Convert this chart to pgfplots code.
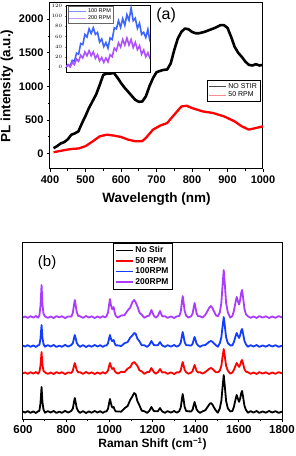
\documentclass[border=0pt]{standalone}
\usepackage{fontspec}
\setmainfont{Liberation Sans}
\usepackage{pgfplots}
\usepackage{pgfplotstable}
\pgfplotsset{compat=1.18}

\definecolor{myblue}{RGB}{20,60,255}
\definecolor{mypurple}{RGB}{170,60,255}
\definecolor{inblue}{RGB}{60,100,255}
\definecolor{inpurple}{RGB}{175,80,255}

\pgfplotstableread{
x y
410 20
430 40
450 60
465 70
480 75
500 110
520 180
540 256
560 281
580 267
600 247
620 207
640 183
660 185
670 232
690 355
710 415
730 454
750 578
770 700
785 711
800 677
830 627
860 602
890 553
920 479
940 405
960 356
980 380
1000 405
}\plred

\pgfplotstableread{
x y
410 80
420 110
430 150
440 170
450 210
460 280
470 300
480 330
490 450
500 560
510 680
520 780
530 880
540 1020
550 1170
560 1190
570 1190
580 1200
590 1130
600 1050
610 980
620 920
630 860
640 800
650 770
660 775
670 850
680 1000
690 1120
700 1210
710 1230
720 1245
730 1250
740 1340
750 1540
760 1710
770 1810
780 1860
790 1850
800 1810
810 1790
820 1790
835 1810
850 1840
865 1870
880 1910
890 1910
900 1870
910 1740
920 1590
930 1500
940 1440
950 1370
960 1320
970 1310
980 1330
990 1310
1000 1320
}\plblack

\pgfplotstableread{
x blue purple
400 0 0
415 4 4.5
430 2 0
445 13 9
460 11 4.5
475 27 15.5
490 25 11
505 46 23
520 44 17.5
535 64 29.5
550 59 22
565 75 32
580 66 22
595 77 29.5
610 64 17
625 68 24
640 49 12
655 55 18.5
670 40 9
685 48 17.5
700 37 10
715 57 24
730 54 20
745 77 37
760 75 32
775 91 47.5
790 78 39
805 95 54
820 82 43
835 103 57
850 92 43
865 116 54
880 91 38
895 96 48.5
910 76 34
925 86 42
940 64 25
955 68 33.5
970 58 20
985 74 28
1000 50 16
}\inset

\pgfplotstableread{
x black red blue purple
600 7.5 45.5 73.5 101.5
610 6.4 46.6 72.4 102.6
622 7.9 45.1 73.9 101.1
635 6.2 46.8 72.2 102.8
648 7.6 45.4 73.6 101.4
660 6.0 47.0 72.0 103.0
670 7.7 45.3 73.7 101.3
676 8.25 47.05 74.05 103.6
681 15.75 53.35 80.35 113.2
686 32 67 94 134
690 17 54.4 81.4 114.8
695 9.5 48.1 75.1 105.2
702 6.3 46.7 72.3 102.7
715 7.9 45.1 73.9 101.1
728 6.5 46.5 72.5 102.5
742 8.0 45.0 74.0 101.0
755 6.1 46.9 72.1 102.9
768 7.4 45.6 73.4 101.6
780 6.2 46.8 72.2 102.8
795 8.1 44.9 74.1 100.9
810 6.4 46.6 72.4 102.6
824 8.2 46 74.05 102.35
831 10.5 48.5 75.75 106.25
836 16.8 53 80.7 113.9
840 21 56 84 119
844 16.8 53 80.7 113.9
849 10.9 48.8 76.1 106.8
856 7.8 46.6 73.7 103.0
864 6.2 46.8 72.2 102.8
878 7.9 45.1 73.9 101.1
892 6.0 47.0 72.0 103.0
905 7.6 45.4 73.6 101.4
918 6.3 46.7 72.3 102.7
932 8.0 45.0 74.0 101.0
945 6.5 46.5 72.5 102.5
958 7.8 45.2 73.8 101.2
970 6.1 46.9 72.1 102.9
980 7.5 45.5 73.5 101.5
987 7.65 46.5 73.55 102.9
994 10.25 48.5 75.75 106.5
999 16.1 53 80.7 114.6
1003 20 56 84 120
1007 16.1 53 80.7 114.6
1012 12.1 50.3 77.9 110.0
1016 11.3 50.1 77.9 110.1
1020 12 51 79 112
1024 9.5 48.5 76 107
1030 7.5 46.5 73.6 103
1040 7.6 45.4 73.6 101.4
1055 7.25 47.25 72.95 103.55
1070 10.65 46.85 75.75 103.75
1085 13.05 50.45 76.95 108.55
1097 19.1 51.9 81.5 111.5
1107 22.65 55.85 83.55 116.95
1115 26 57 86 119
1122 24.7 55.3 85.3 116.7
1130 17.9 53.1 80.3 112.7
1140 13.4 48.6 77.6 106.4
1150 8.3 47.7 73.7 104.3
1162 7.8 45.2 73.8 101.2
1175 6.1 46.9 72.1 102.9
1185 8 47 74 103.4
1191 10.5 49.5 76.5 106.9
1195 12 51 78 109
1199 10.5 49.5 76.5 106.9
1206 8 47 74 103.4
1215 7.7 45.3 73.7 101.3
1225 7.8 46.8 73.8 103.2
1231 9.8 48.8 75.8 106.2
1235 11 50 77 108
1239 9.4 48.4 75.4 105.6
1246 7.4 46.4 73.4 102.6
1258 6.2 46.8 72.2 102.8
1270 7.9 45.1 73.9 101.1
1285 6.4 46.6 72.4 102.6
1300 8.0 45.0 74.0 101.0
1313 6.3 46.7 72.3 102.7
1324 7.9 46.55 73.7 103.05
1331 11.5 48.75 76.5 107.25
1336 19.6 53.7 82.8 116.7
1340 25 57 87 123
1344 19.6 53.7 82.8 116.7
1349 12.0 49.1 76.9 107.9
1356 8.1 46.7 73.8 103.3
1366 7.7 45.3 73.7 101.3
1379 7.5 46.4 73.45 102.7
1386 9.5 48 75.25 105.5
1391 14 51.6 79.3 111.8
1395 17 54 82 116
1399 14 51.6 79.3 111.8
1404 9.8 48.2 75.5 105.9
1411 7.6 46.5 73.5 102.8
1420 6.2 46.8 72.2 102.8
1432 7.6 45.4 73.6 101.4
1445 8.8 47 74 104.2
1455 11.95 48.75 75.75 108.05
1463 14.65 50.25 77.25 111.35
1470 16 51 78 113
1477 14.65 50.25 77.25 111.35
1485 11.5 48.5 75.5 107.5
1494 8.35 46.75 73.75 103.65
1503 6.3 46.7 72.3 102.7
1512 10.7 48.4 75.9 106.7
1519 18.1 53.2 81.7 116.1
1525 32.9 62.8 93.3 134.9
1530 44 70 102 149
1535 32.9 62.8 93.3 134.9
1541 18.1 53.2 81.7 116.1
1549 10.7 48.4 75.9 106.7
1560 7.6 45.4 73.6 101.4
1570 7.85 46.5 73.65 103
1577 12.1 49 76.9 108
1584 18.9 53 82.1 116
1590 24 56 86 122
1595 20.8 54.15 83.6 118.35
1601 17.15 52.1 80.95 114.4
1606 20.25 54.15 83.65 118.85
1611 25.9 57.7 88.3 126.3
1615 28 59 90 129
1620 21.7 55.1 84.9 120.9
1626 13.3 49.9 78.1 110.1
1633 9.1 47.3 74.7 104.7
1642 6.2 46.8 72.2 102.8
1655 7.9 45.1 73.9 101.1
1668 6.4 46.6 72.4 102.6
1682 8.0 45.0 74.0 101.0
1695 6.1 46.9 72.1 102.9
1710 7.6 45.4 73.6 101.4
1725 6.3 46.7 72.3 102.7
1740 8.0 45.0 74.0 101.0
1755 6.5 46.5 72.5 102.5
1770 7.8 45.2 73.8 101.2
1785 6.1 46.9 72.1 102.9
1800 7.4 45.6 73.4 101.6
}\raman

\begin{document}
\begin{tikzpicture}[x=1pt,y=1pt]
\useasboundingbox (0,0) rectangle (296,456);
% ---------- panel (a) ----------
\begin{axis}[
  at={(50pt,287pt)}, anchor=south west,
  width=213pt, height=166pt, scale only axis,
  xmin=400, xmax=1000, ymin=-230, ymax=2240,
  xtick={400,500,...,1000}, ytick={0,500,...,2000},
  minor x tick num=1, minor y tick num=1,
  tick pos=left, tick align=outside,
  major tick length=3pt, minor tick length=2pt,
  axis line style={line width=1pt}, every tick/.style={line width=0.8pt, black},
  /pgf/number format/assume math mode=true,
  /pgf/number format/set thousands separator={},
  ticklabel style={font=\fontsize{11}{12}\selectfont\bfseries},
  xlabel={Wavelength (nm)}, ylabel={PL intensity (a.u.)},
  label style={font=\fontsize{13.5}{15}\selectfont\bfseries},
  xlabel style={yshift=-3pt}, ylabel style={yshift=-1pt},
  legend style={at={(0.986,0.536)}, anchor=north east,
    font=\fontsize{7}{8}\selectfont, draw=black, line width=0.4pt,
    inner sep=1pt, row sep=-1.5pt},
  legend cell align=left,
]
\addplot[black, line width=2.6pt, line join=round, forget plot] table[x=x,y=y] {\plblack};
\addplot[red, line width=2.3pt, line join=round, forget plot] table[x=x,y=y] {\plred};
\addlegendimage{black!70, line width=0.6pt}
\addlegendentry{NO STIR}
\addlegendimage{red!45, line width=0.8pt}
\addlegendentry{50 RPM}
\node[font=\fontsize{16}{16}\selectfont] at (rel axis cs:0.545,0.928) {(a)};
\end{axis}
% ---------- inset ----------
\begin{axis}[
  at={(66pt,384pt)}, anchor=south west,
  width=84pt, height=67pt, scale only axis,
  xmin=400, xmax=1000, ymin=-10, ymax=122,
  axis background/.style={fill=white},
  xtick=\empty, ytick={0,20,...,120},
  tick pos=left, tick align=outside,
  major tick length=1.5pt,
  axis line style={line width=0.5pt},
  ticklabel style={font=\fontsize{4}{4}\selectfont},
  yticklabel style={xshift=1pt},
  legend style={at={(0.02,0.99)}, anchor=north west,
    font=\fontsize{5.5}{6}\selectfont, draw=black!60, line width=0.3pt,
    inner sep=0.5pt, row sep=-2pt},
  legend cell align=left,
]
\addplot[inblue, line width=1.6pt, forget plot] table[x=x,y=blue] {\inset};
\addplot[inpurple, line width=1.6pt, forget plot] table[x=x,y=purple] {\inset};
\addlegendimage{inblue!70, line width=0.6pt}
\addlegendentry{100 RPM}
\addlegendimage{inpurple!60, line width=0.6pt}
\addlegendentry{200 RPM}
\end{axis}
% ---------- panel (b) ----------
\begin{axis}[
  at={(23pt,37pt)}, anchor=south west,
  width=259pt, height=176pt, scale only axis,
  xmin=600, xmax=1800, ymin=0, ymax=176,
  xtick={600,800,...,1800}, ytick=\empty,
  minor x tick num=1,
  tick pos=left, tick align=outside,
  major tick length=3pt, minor tick length=2pt,
  axis line style={line width=1pt}, every tick/.style={line width=0.8pt, black},
  /pgf/number format/assume math mode=true,
  /pgf/number format/set thousands separator={},
  ticklabel style={font=\fontsize{11.5}{12}\selectfont\bfseries},
  xlabel={Raman Shift (cm\textsuperscript{\char"2212 1})},
  label style={font=\fontsize{12}{14}\selectfont\bfseries},
  xlabel style={yshift=3pt},
  legend style={at={(0.347,1)}, anchor=north west,
    font=\fontsize{8.5}{9}\selectfont\bfseries, draw=black, line width=0.5pt,
    inner sep=1.5pt, row sep=-1pt},
  legend cell align=left,
]
\addplot[black, line width=1.8pt, line join=round] table[x=x,y=black] {\raman};
\addlegendentry{No Stir}
\addplot[red, line width=1.8pt, line join=round] table[x=x,y=red] {\raman};
\addlegendentry{50 RPM}
\addplot[myblue, line width=1.8pt, line join=round] table[x=x,y=blue] {\raman};
\addlegendentry{100RPM}
\addplot[mypurple, line width=1.8pt, line join=round] table[x=x,y=purple] {\raman};
\addlegendentry{200RPM}
\node[font=\fontsize{15}{15}\selectfont] at (rel axis cs:0.093,0.886) {(b)};
\end{axis}
\end{tikzpicture}
\end{document}
